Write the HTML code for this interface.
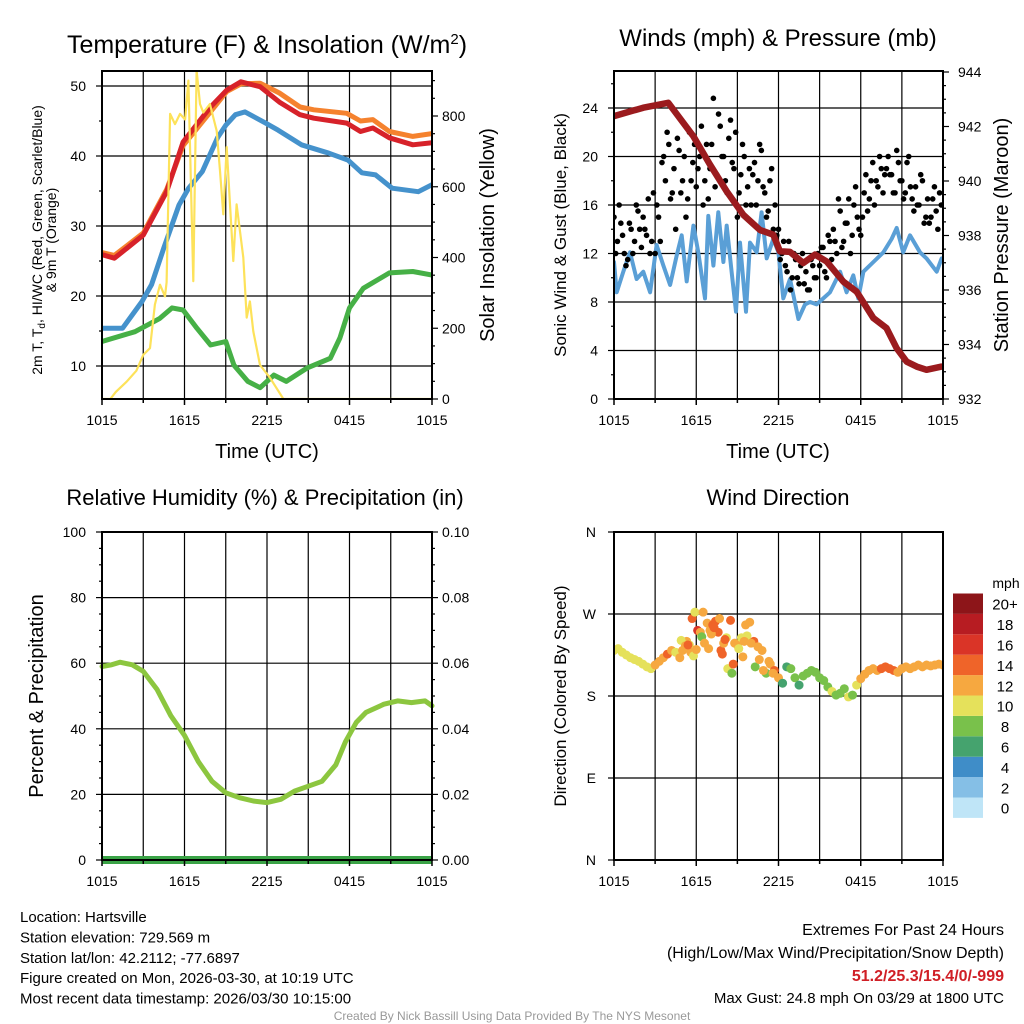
<!DOCTYPE html>
<html><head><meta charset="utf-8">
<style>
html,body{margin:0;padding:0;background:#fff;}
svg{display:block;font-family:"Liberation Sans",Arial,sans-serif;}
</style></head>
<body>
<svg id="chart" width="1024" height="1024" viewBox="0 0 1024 1024" xmlns="http://www.w3.org/2000/svg"></svg>
<script>
// ---------- DATA ----------
const xTickLabels = ["1015","1615","2215","0415","1015"];
// Panel 1: temperatures (hours since 1015 UTC)
const tempTimes = [0,0.9,3.0,4.7,5.9,7.85,9.07,10.1,11.5,12.9,14.4,15.4,17.8,18.8,19.7,20.9,22.6,24];
const tempRed   = [25.9,25.4,28.7,34.9,42,46.9,49.4,50.6,49.9,47.7,45.9,45.4,44.7,43.5,44,42.6,41.6,41.9];
const tempOrange= [26.2,25.8,29,35.2,41.5,46.2,49.2,50.3,50.4,49,47,46.6,46.1,45,45.2,43.5,42.8,43.2];
const dewTimes  = [0,1.5,2.9,3.6,4.5,5.6,6.3,7.3,8.4,9.0,9.7,10.4,11.9,12.8,14.5,16.5,17.9,18.9,19.9,21.1,23.0,24];
const dewBlue   = [15.4,15.4,19.2,21.6,26.9,33,35.4,37.8,42.6,44.4,45.9,46.3,44.7,43.7,41.6,40.4,39.4,37.6,37.3,35.4,34.9,35.9];
const hiTimes   = [0,2.4,4.2,5.1,5.9,6.9,7.9,9.0,9.6,10.6,11.5,12.5,13.4,14.9,16.6,17.3,18.0,19.0,20.9,22.6,24];
const hiGreen   = [13.5,14.9,16.8,18.3,18,15.4,13,13.5,10.1,7.8,6.9,8.7,7.8,9.7,11.1,14,18.3,21.1,23.3,23.5,23];
const solTimes  = [0,0.6,1.0,1.79,2.5,3.0,3.49,3.85,4.22,4.58,4.7,4.95,5.31,5.67,6.04,6.28,6.64,6.88,7.13,7.37,7.85,8.34,8.58,8.82,9.07,9.31,9.55,9.79,10.28,10.52,10.76,11.0,11.49,12.22,13.19,24];
const solar     = [0,0,20,49,80,125,144,267,323,290,330,806,777,806,790,900,333,929,834,810,834,758,645,522,712,550,390,550,400,230,276,191,96,60,0,0];
// Panel 2: winds & pressure
const presTimes = [0,2.14,3.96,5.79,7.0,8.22,9.43,10.65,11.62,12.1,12.84,13.81,14.66,15.51,16.73,17.7,18.92,19.88,20.62,21.35,22.08,22.8,23.9];
const pressure  = [942.38,942.69,942.87,941.64,940.6,939.62,938.76,938.2,938.03,937.42,937.4,936.99,937.3,937.05,936.31,935.94,934.97,934.6,933.86,933.37,933.19,933.07,933.19];
const windTimes = [0,0.2,0.68,1.17,1.65,2.14,2.63,3.11,3.6,4.09,4.57,4.94,5.3,5.79,6.15,6.64,6.88,7.25,7.61,7.98,8.22,8.58,8.9,9.19,9.63,9.92,10.41,10.77,11.14,11.62,11.99,12.35,12.84,13.45,13.93,14.3,14.78,15.27,15.76,16.49,16.97,17.46,17.82,18.19,18.92,19.65,20.25,20.62,21.1,21.59,22.32,22.8,23.54,23.9];
const windSpeed = [11.3,8.8,10.5,12.1,9.9,10.5,8.8,12.7,11.0,9.4,11.8,13.5,9.7,14.3,12.1,8.3,15.1,11.0,15.4,11.3,14.3,10.5,7.2,12.9,7.2,12.9,12.1,15.4,11.6,13.2,12.1,8.3,9.9,6.6,7.8,8.0,7.8,8.3,8.8,10.5,8.8,10.2,8.3,10.5,11.3,12.1,13.2,14.1,12.1,13.5,12.1,11.6,10.5,11.6];
const gustStartA = 0, gustStartB = 0.125, gustStep = 0.25;
const gustA = [15,13,14.5,12, 11.5,14,13,15.5, 12.5,14,16.5,13, 12,15,19.5,18, 21,17,14,20.5, 18,15,22,19.5, 17.5,20,16,21, 19,24.8,18.5,22.5, 20,17,23,19, 15,18.5,20,17.5, 16,19.5,18,20.5, 17,15.5,19,16, 14,12,11,13, 10,11.5,9.5,12, 10.5,9,11,10, 11,12.5,10,13, 14,12,15.5,13, 14.5,12,16,15, 13.5,17,15.5,18, 16,17.5,19,18.5, 20,18.5,17,19.5, 18,17,20,16.5, 17.5,16,18,15, 14.5,16.5,15.5,17, 16];
const gustB = [12,16,13.5,11, 14.5,12,16,14, 15,13.5,12,17, 16,13,20,22, 16.5,19,21.5,17, 20,16.5,18,21, 19,22.5,18,16.5, 21,17.5,23.5,20, 18,21.5,19.5,22, 17,21,16,19, 18.5,16,21,17.5, 15,18,14,13.5, 11.5,13,10.5,9, 12,10,11,9.5, 9,11.5,10,12, 12.5,10.5,13.5,11.5, 13,16.5,12.5,14.5, 16.5,13.5,17.5,14, 15,18.5,16.5,19.5, 18,20,17,19, 18.5,17,20.5,18, 16.5,19.5,17.5,15.5, 16,18.5,14.5,16.5, 15,17.5,14,16];
// Panel 3: RH & precipitation
const rhTimes = [0,0.7,1.3,2.2,3,4,5,6,7,8,9,10,11,12,13,14,15,16,17,17.7,18.5,19.2,20.5,21.5,22.5,23.5,24];
const rh      = [59,59.5,60.3,59.5,57.5,52,44,38,30,24,20.5,19,18,17.5,18.5,21,22.5,24,29,36,42,45,47.5,48.5,48,48.5,47];
const precipTimes = [0,24];
const precip = [0,0];
// Panel 4: wind direction (deg) & speed (mph)
const dirTimes = [0,0.3,0.6,0.9,1.2,1.5,1.8,2.1,2.4,2.7,3.0,3.3,3.6,3.9,4.2,4.5,4.8,5.0,5.3,5.5,5.7,5.9,6.1,6.3,6.5,6.8,7.0,7.2,7.4,7.6,7.8,8.0,8.2,8.5,8.8,9.0,9.3,9.6,9.9,10.2,10.5,10.8,11.1,11.4,11.7,12.0,12.3,12.6,12.9,13.2,13.5,13.8,14.1,14.4,14.7,15.0,15.3,15.6,15.9,16.2,16.5,16.8,17.1,17.4,17.7,18.0,18.3,18.6,18.9,19.2,19.5,19.8,20.1,20.4,20.7,21.0,21.3,21.6,21.9,22.2,22.5,22.8,23.1,23.4,23.7,24.0,
  4.9,5.2,5.6,5.8,6.0,6.4,6.6,6.9,7.1,7.3,7.7,8.1,8.3,8.6,9.1,9.4,9.7,10.0,10.3,10.6,10.9,11.3,11.6,7.9,8.7,9.5,5.4];
const dirDeg = [230,232,228,225,222,220,218,215,212,210,214,218,222,226,230,228,222,230,240,236,265,272,252,250,272,260,252,258,262,250,230,238,244,263,238,236,244,258,261,240,234,230,205,215,208,200,194,212,210,200,192,202,205,208,206,200,197,190,185,181,183,188,179,181,192,199,204,208,210,208,210,212,210,208,206,210,212,210,212,214,212,214,213,214,215,214,
  241,235,228,224,231,245,238,232,248,255,265,242,210,205,232,223,246,238,212,220,208,218,205,226,215,240,236];
const dirSpeed = [10,10,11,10,11,10,10,10,10,10,12,12,12,15,13,11,12,12,13,11,15,11,16,12,12,12,13,15,15,14,15,13,11,15,12,12,10,13,13,14,12,13,9,12,15,12,7,7,8,8,6,8,8,8,9,9,9,9,10,9,8,9,10,8,10,12,12,13,13,13,14,15,15,14,13,12,12,13,12,12,12,13,12,12,12,13,
  11,13,12,11,12,9,12,13,12,14,12,14,10,9,10,12,10,12,9,12,12,12,13,14,15,13,14];
const speedBinLabels = ["0","2","4","6","8","10","12","14","16","18","20+"];
const speedBinColors = ["#bfe5f7","#85bfe6","#3f8dc8","#45a36e","#79c14b","#e5e15b","#f6a840","#ef6429","#da3427","#b71c22","#8d1519"];
const rhTickLabels = ["0","20","40","60","80","100"];
const precipTickLabels = ["0.00","0.02","0.04","0.06","0.08","0.10"];
const dirTickLabels = ["N","E","S","W","N"];

// ---------- HELPERS ----------
const NS = "http://www.w3.org/2000/svg";
const svg = document.getElementById("chart");
function mk(tag, attrs, parent){
  const e = document.createElementNS(NS, tag);
  for (const k in attrs) e.setAttribute(k, attrs[k]);
  (parent||svg).appendChild(e);
  return e;
}
function txt(s, x, y, size, anchor, parent, extra){
  const t = mk("text", Object.assign({x:x, y:y, "font-size":size, "text-anchor":anchor||"middle", fill:"#000"}, extra||{}), parent);
  t.textContent = s;
  return t;
}
function scale(d0,d1,r0,r1){ return v => r0 + (v-d0)*(r1-r0)/(d1-d0); }
function pathOf(xs, ys, sx, sy){
  let d = "";
  for (let i=0;i<xs.length;i++) d += (i?"L":"M") + sx(xs[i]).toFixed(1) + "," + sy(ys[i]).toFixed(1);
  return d;
}
function panelFrame(g, L, T, R, B, sx, hGridVals, sy){
  for (let h=3; h<24; h+=3){
    const ln = mk("line",{x1:sx(h),x2:sx(h),y1:T,y2:B,stroke:"#000","stroke-width":1.2},g);
    
    
  }
  hGridVals.forEach(v=>{
    const ln = mk("line",{x1:L,x2:R,y1:sy(v),y2:sy(v),stroke:"#000","stroke-width":1.2},g);
    
    
  });
}
function xAxis(g, L, R, B, sx){
  for (let h=0; h<=24; h+=3){
    mk("line",{x1:sx(h),x2:sx(h),y1:B,y2:B+(h%6===0?6:4),stroke:"#000","stroke-width":1.5},g);
  }
  xTickLabels.forEach((s,i)=>{
    const t = txt(s, sx(i*6), B+26, 14, "middle", g);
    
    
  });
}
function border(g,L,T,R,B){
  const r = mk("rect",{x:L,y:T,width:R-L,height:B-T,fill:"none",stroke:"#000","stroke-width":2},g);
  
  
}

// ---------- PANEL 1 ----------
(function(){
  const L=102,T=71,R=432,B=399;
  const g = mk("g",{});
  
  
  const sx = scale(0,24,L,R);
  const sy = scale(10,50,366,86);
  const sy2 = scale(0,800,B,116);
  panelFrame(g,L,T,R,B,sx,[10,20,30,40,50],sy);
  for (let v=10; v<=50; v+=5){
    mk("line",{x1:L-(v%10===0?6:3),x2:L,y1:sy(v),y2:sy(v),stroke:"#000","stroke-width":1.2},g);
  }
  [10,20,30,40,50].forEach(v=>{
    const t = txt(String(v), 86, sy(v)+5, 14, "end", g);
    
    
  });
  for (let v=0; v<=900; v+=50){
    mk("line",{x1:R,x2:R+(v%200===0?6:3),y1:sy2(v),y2:sy2(v),stroke:"#000","stroke-width":1.2},g);
  }
  [0,200,400,600,800].forEach(v=>{
    const t = txt(String(v), 442, sy2(v)+5, 14, "start", g);
    
    
  });
  const clip = mk("clipPath",{id:"c1"},g);
  mk("rect",{x:L,y:T,width:R-L,height:B-T},clip);
  const lines = mk("g",{"clip-path":"url(#c1)","fill":"none","stroke-linejoin":"round","stroke-linecap":"round"},g);
  let p;
  p = mk("path",{d:pathOf(hiTimes,hiGreen,sx,sy),stroke:"#46b046","stroke-width":5},lines);
   
  p = mk("path",{d:pathOf(dewTimes,dewBlue,sx,sy),stroke:"#4592cc","stroke-width":5},lines);
   
  p = mk("path",{d:pathOf(tempTimes,tempOrange,sx,sy),stroke:"#f5822e","stroke-width":5},lines);
   
  p = mk("path",{d:pathOf(tempTimes,tempRed,sx,sy),stroke:"#d7222a","stroke-width":5},lines);
   
  p = mk("path",{d:pathOf(solTimes,solar,sx,sy2),stroke:"#fde25a","stroke-width":2.2},lines);
   
  border(g,L,T,R,B);
  xAxis(g,L,R,B,sx);
  let t = txt("", 267, 53, 25, "middle", g);
  t.innerHTML = 'Temperature (F) &amp; Insolation (W/m<tspan dy="-9" font-size="15">2</tspan><tspan dy="9">)</tspan>';
   
  t = txt("Time (UTC)", 267, 458, 20, "middle", g);
   
  t = txt("", 42, 240, 14, "middle", g, {transform:"rotate(-90 42 240)"});
  t.innerHTML = '2m T, T<tspan dy="3" font-size="10">d</tspan><tspan dy="-3">, HI/WC (Red, Green, Scarlet/Blue)</tspan>';
   
  t = txt("& 9m T (Orange)", 56, 240, 14, "middle", g, {transform:"rotate(-90 56 240)"});
   
  t = txt("Solar Insolation (Yellow)", 487, 235, 20, "middle", g, {transform:"rotate(-90 487 235)", dy:"7"});
   
})();

// ---------- PANEL 2 ----------
(function(){
  const L=614,T=71,R=943,B=399;
  const g = mk("g",{});
  
  
  const sx = scale(0,24,L,R);
  const sy = scale(0,24,B,108);
  const sy2 = scale(932,944,B,72);
  panelFrame(g,L,T,R,B,sx,[4,8,12,16,20,24],sy);
  for (let v=0; v<=26; v+=2){
    mk("line",{x1:L-(v%4===0?6:3),x2:L,y1:sy(v),y2:sy(v),stroke:"#000","stroke-width":1.2},g);
  }
  [0,4,8,12,16,20,24].forEach(v=>{
    const t = txt(String(v), 598, sy(v)+5, 14, "end", g);
     
  });
  for (let v=932; v<=944; v+=0.5){
    mk("line",{x1:R,x2:R+(Math.abs(v%2)<0.01?6:3),y1:sy2(v),y2:sy2(v),stroke:"#000","stroke-width":1.2},g);
  }
  [932,934,936,938,940,942,944].forEach(v=>{
    const t = txt(String(v), 958, sy2(v)+5, 14, "start", g);
     
  });
  const clip = mk("clipPath",{id:"c2"},g);
  mk("rect",{x:L,y:T,width:R-L,height:B-T},clip);
  const lines = mk("g",{"clip-path":"url(#c2)","fill":"none","stroke-linejoin":"round","stroke-linecap":"round"},g);
  let p = mk("path",{d:pathOf(windTimes,windSpeed,sx,sy),stroke:"#5a9fd6","stroke-width":4},lines);
   
  const dots = mk("g",{fill:"#000"},lines);
   
  gustA.forEach((v,i)=>{
    const c = mk("circle",{cx:sx(gustStartA+i*gustStep),cy:sy(v),r:2.8},dots);
     
  });
  gustB.forEach((v,i)=>{
    const c = mk("circle",{cx:sx(gustStartB+i*gustStep),cy:sy(v),r:2.8},dots);
     
  });
  p = mk("path",{d:pathOf(presTimes,pressure,sx,sy2),stroke:"#9b1b1e","stroke-width":6.5},lines);
   
  border(g,L,T,R,B);
  xAxis(g,L,R,B,sx);
  let t = txt("Winds (mph) & Pressure (mb)", 778, 46, 24, "middle", g);
   
  t = txt("Time (UTC)", 778, 458, 20, "middle", g);
   
  t = txt("Sonic Wind & Gust (Blue, Black)", 566, 235, 17, "middle", g, {transform:"rotate(-90 566 235)"});
   
  t = txt("Station Pressure (Maroon)", 1001, 235, 20, "middle", g, {transform:"rotate(-90 1001 235)", dy:"7"});
   
})();

// ---------- PANEL 3 ----------
(function(){
  const L=102,T=532,R=432,B=860;
  const g = mk("g",{});
  
  
  const sx = scale(0,24,L,R);
  const sy = scale(0,100,B,T);
  const sy2 = scale(0,0.1,B,T);
  panelFrame(g,L,T,R,B,sx,[20,40,60,80],sy);
  for (let v=0; v<=100; v+=5){
    mk("line",{x1:L-(v%20===0?6:3),x2:L,y1:sy(v),y2:sy(v),stroke:"#000","stroke-width":1.2},g);
    mk("line",{x1:R,x2:R+(v%20===0?6:3),y1:sy(v),y2:sy(v),stroke:"#000","stroke-width":1.2},g);
  }
  rhTickLabels.forEach((s,i)=>{
    const t = txt(s, 86, sy(i*20)+5, 14, "end", g);
     
  });
  precipTickLabels.forEach((s,i)=>{
    const t = txt(s, 442, sy2(i*0.02)+5, 14, "start", g);
     
  });
  const lines = mk("g",{"fill":"none","stroke-linejoin":"round","stroke-linecap":"round"},g);
  let p = mk("path",{d:pathOf(rhTimes,rh,sx,sy),stroke:"#8cc63f","stroke-width":5},lines);
   
  p = mk("path",{d:pathOf(precipTimes,precip,sx,sy2),stroke:"#3aa346","stroke-width":8,"stroke-linecap":"butt"},lines);
   
  border(g,L,T,R,B);
  xAxis(g,L,R,B,sx);
  let t = txt("Relative Humidity (%) & Precipitation (in)", 265, 505, 22, "middle", g);
   
  t = txt("Percent & Precipitation", 43, 696, 20, "middle", g, {transform:"rotate(-90 43 696)"});
   
})();

// ---------- PANEL 4 ----------
(function(){
  const L=614,T=532,R=943,B=860;
  const g = mk("g",{});
  
  
  const sx = scale(0,24,L,R);
  const sy = scale(0,360,B,T);
  panelFrame(g,L,T,R,B,sx,[90,180,270],sy);
  for (let v=0; v<=360; v+=90){
    mk("line",{x1:L-6,x2:L,y1:sy(v),y2:sy(v),stroke:"#000","stroke-width":1.2},g);
  }
  dirTickLabels.forEach((s,i)=>{
    const t = txt(s, 596, sy(i*90)+5, 14, "end", g);
     
  });
  const clip = mk("clipPath",{id:"c4"},g);
  mk("rect",{x:L,y:T,width:R-L,height:B-T},clip);
  const pts = mk("g",{"clip-path":"url(#c4)"},g);
   
  dirTimes.forEach((h,i)=>{
    const bin = Math.min(10, Math.floor(dirSpeed[i]/2));
    const c = mk("circle",{cx:sx(h),cy:sy(dirDeg[i]),r:4.5,fill:speedBinColors[bin]},pts);
     
  });
  border(g,L,T,R,B);
  xAxis(g,L,R,B,sx);
  let t = txt("Wind Direction", 778, 505, 22, "middle", g);
   
  t = txt("Direction (Colored By Speed)", 566, 696, 17, "middle", g, {transform:"rotate(-90 566 696)"});
   
  const cb = mk("g",{},g);
   
  const top=593.5, bh=20.4;
  speedBinColors.forEach((col,i)=>{
    const y = top + (10-i)*bh;
    const r = mk("rect",{x:953,y:y,width:30,height:bh,fill:col},cb);
     
    const l = txt(speedBinLabels[i], 1005, y+bh/2+6, 15, "middle", cb);
     
  });
  t = txt("mph", 1006, 588, 14, "middle", cb);
   
})();

// ---------- FOOTER TEXT ----------
(function(){
  const g = mk("g",{});
  
  
  const info = ["Location: Hartsville","Station elevation: 729.569 m","Station lat/lon: 42.2112; -77.6897","Figure created on Mon, 2026-03-30, at 10:19 UTC","Most recent data timestamp: 2026/03/30 10:15:00"];
  info.forEach((s,i)=>{
    const t = txt(s, 20, 922+i*20.4, 15, "start", g);
     
  });
  let t = txt("Extremes For Past 24 Hours", 1004, 935, 16, "end", g);
   
  t = txt("(High/Low/Max Wind/Precipitation/Snow Depth)", 1004, 958, 16, "end", g);
   
  t = txt("51.2/25.3/15.4/0/-999", 1004, 981, 16, "end", g, {fill:"#d01f26","font-weight":"bold"});
   
  t = txt("Max Gust: 24.8 mph On 03/29 at 1800 UTC", 1004, 1003, 15, "end", g);
   
  t = txt("Created By Nick Bassill Using Data Provided By The NYS Mesonet", 512, 1020, 12, "middle", g, {fill:"#999"});
   
})();
</script>
</body></html>
